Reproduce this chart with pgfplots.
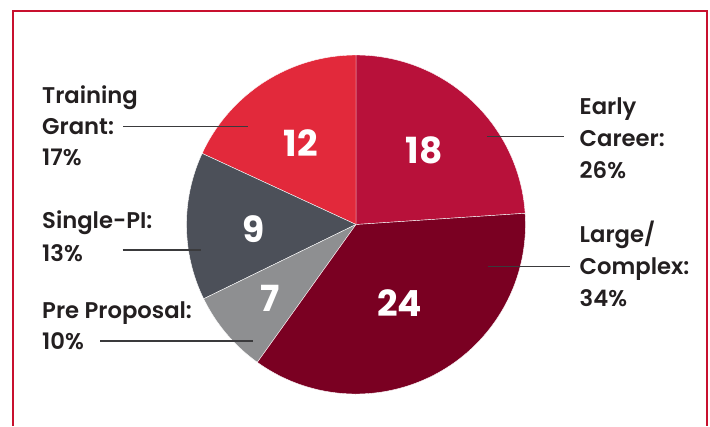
\documentclass[border=0pt]{standalone}
\usepackage{fontspec}
\setmainfont{Poppins}[BoldFont={* SemiBold}]
\newfontfamily\numfont{Poppins}
\usepackage{pgfplots}
\pgfplotsset{compat=1.18}
\usepackage{pgfplotstable}

\definecolor{cEarly}{HTML}{B8113A}
\definecolor{cLarge}{HTML}{7A0022}
\definecolor{cTrain}{HTML}{E2293B}
\definecolor{cSingle}{HTML}{4C5059}
\definecolor{cPre}{HTML}{8E8F91}
\definecolor{cFrame}{HTML}{C8102E}
\definecolor{cTxt}{HTML}{231F20}
\definecolor{cLead}{HTML}{3A3A3C}

% slice counts and their positions (pixel coordinates of the picture)
\pgfplotstableread{
x y label
300.8 143.3 12
424.2 150.0 18
253.3 228.8 9
270.5 298.3 7
399.8 302.7 24
}\numtab

\begin{document}
\begin{tikzpicture}
\begin{axis}[
  width=710pt, height=426pt, scale only axis,
  xmin=0, xmax=710, ymin=0, ymax=426, y dir=reverse,
  hide axis, clip=true,
]
% pie slices: center (356,224.5), radius 169.5
\addplot[fill=cEarly, draw=white, line width=0.4pt] coordinates {(356,224.5) (525.13,213.27)} arc[start angle=3.8, end angle=90, radius=169.5pt] -- cycle;
\addplot[fill=cTrain, draw=white, line width=0.4pt] coordinates {(356,224.5) (356,55)} arc[start angle=90, end angle=155.2, radius=169.5pt] -- cycle;
\addplot[fill=cSingle, draw=white, line width=0.4pt] coordinates {(356,224.5) (202.13,153.40)} arc[start angle=155.2, end angle=206, radius=169.5pt] -- cycle;
\addplot[fill=cPre, draw=white, line width=0.4pt] coordinates {(356,224.5) (203.65,298.80)} arc[start angle=206, end angle=234.4, radius=169.5pt] -- cycle;
\addplot[fill=cLarge, draw=white, line width=0.4pt] coordinates {(356,224.5) (257.33,362.31)} arc[start angle=234.4, end angle=363.8, radius=169.5pt] -- cycle;

% numbers in slices
\addplot[draw=none, nodes near coords, point meta=explicit symbolic,
  every node near coord/.append style={anchor=center, text=white, inner sep=0pt,
    font=\numfont\bfseries\fontsize{36}{36}\selectfont}]
  table[x=x, y=y, meta=label] {\numtab};

% leader lines
\addplot[draw=cLead, line width=1.3pt] coordinates {(123,126.7) (247.5,126.7)};
\addplot[draw=cLead, line width=1.3pt] coordinates {(487.3,136.3) (564,136.3)};
\addplot[draw=cLead, line width=1.3pt] coordinates {(487.7,266.7) (570,266.7)};
\addplot[draw=cLead, line width=1.3pt] coordinates {(122.7,250) (201,250)};
\addplot[draw=cLead, line width=1.3pt] coordinates {(100,341) (252.7,341)};

% frame
\addplot[draw=cFrame, line width=2pt] coordinates {(13,426) (13,11) (707,11) (707,426)};

% labels
\tikzset{lab/.style={anchor=base west, inner sep=0pt, text=cTxt, font=\bfseries\fontsize{22.7}{26}\selectfont}}
\node[lab] at (axis cs:42,103) {Training};
\node[lab] at (axis cs:42,134) {Grant:};
\node[lab] at (axis cs:42,165.5) {17\%};
\node[lab] at (axis cs:42,228.5) {Single-PI:};
\node[lab] at (axis cs:42,261) {13\%};
\node[lab] at (axis cs:42,318.3) {Pre Proposal:};
\node[lab] at (axis cs:42,349.5) {10\%};
\node[lab] at (axis cs:579.5,114) {Early};
\node[lab] at (axis cs:579.5,146.5) {Career:};
\node[lab] at (axis cs:579.5,178) {26\%};
\node[lab] at (axis cs:579.5,242.7) {Large/};
\node[lab] at (axis cs:579.5,274.5) {Complex:};
\node[lab] at (axis cs:579.5,306.5) {34\%};
\end{axis}
\pgfresetboundingbox
\path (current axis.south west) rectangle (current axis.north east);
\end{tikzpicture}
\end{document}
